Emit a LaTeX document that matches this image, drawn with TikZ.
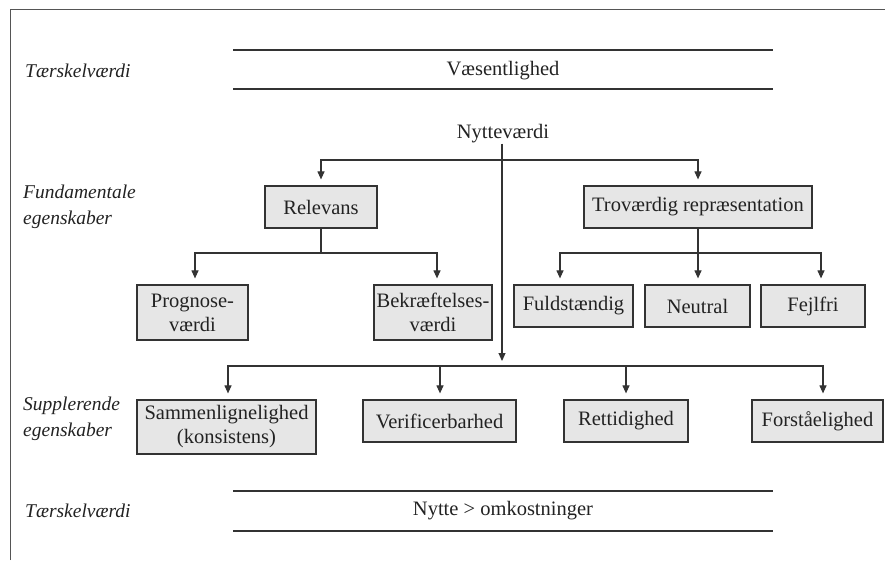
\documentclass[tikz,border=0pt]{standalone}
\usepackage{fontspec}
\setmainfont{Liberation Serif}
\usetikzlibrary{arrows.meta}
\definecolor{linec}{HTML}{333333}
\definecolor{textc}{HTML}{222222}
\definecolor{boxfill}{HTML}{E6E6E6}
\definecolor{framec}{HTML}{555555}
\begin{document}
\begin{tikzpicture}[x=1pt,y=-1pt,
  box/.style={draw=linec, fill=boxfill, line width=1.2pt, inner sep=0pt, align=center,
    text=textc, font=\fontsize{20.5}{24}\selectfont},
  txt/.style={inner sep=0pt, text=textc, font=\fontsize{20.5}{24}\selectfont},
  lbl/.style={anchor=west, inner sep=0pt, align=left, text=textc,
    font=\fontsize{19.5}{26}\selectfont\itshape},
  conn/.style={draw=linec, line width=1.1pt},
  arr/.style={conn, -{Triangle[length=8pt,width=7pt]}, shorten >=6pt}]
\useasboundingbox (0,0) rectangle (885,560);
% frame
\draw[framec, line width=1pt] (10,560) -- (10,9) -- (885,9);
% threshold bands
\draw[conn] (233,50) -- (773,50);
\draw[conn] (233,89) -- (773,89);
\node[txt] (vaes) at (503,71) {Væsentlighed};
\draw[conn] (233,491) -- (773,491);
\draw[conn] (233,531) -- (773,531);
\node[txt] (nytom) at (503,511) {Nytte > omkostninger};
% side labels
\node[lbl] (l1) at (25,71) {Tærskelværdi};
\node[lbl] (l2) at (23,207) {Fundamentale\\egenskaber};
\node[lbl] (l3) at (23,419) {Supplerende\\egenskaber};
\node[lbl] (l4) at (25,511) {Tærskelværdi};
% nodes
\node[txt] (nytte) at (503,134) {Nytteværdi};
\node[box, minimum width=112pt, minimum height=42pt] (rel) at (321,207) {Relevans};
\node[box, minimum width=228pt, minimum height=42pt] (trov) at (698,207) {Troværdig repræsentation};
\node[box, minimum width=111pt, minimum height=55pt] (prog) at (192.5,312.5) {Prognose-\\værdi};
\node[box, minimum width=118pt, minimum height=55pt] (bek) at (433,312.5) {Bekræftelses-\\værdi};
\node[box, minimum width=119pt, minimum height=42pt] (fuld) at (573.5,306) {Fuldstændig};
\node[box, minimum width=105pt, minimum height=42pt] (neut) at (697.5,306) {Neutral};
\node[box, minimum width=104pt, minimum height=42pt] (fejl) at (813,306) {Fejlfri};
\node[box, minimum width=179pt, minimum height=54pt] (samm) at (226.5,427) {Sammenlignelighed\\(konsistens)};
\node[box, minimum width=153pt, minimum height=42pt] (verif) at (439.5,421) {Verificerbarhed};
\node[box, minimum width=124pt, minimum height=42pt] (rett) at (626,421) {Rettidighed};
\node[box, minimum width=131pt, minimum height=42pt] (forst) at (817.5,421) {Forståelighed};
% junctions
\coordinate (j1) at (502,160);
\coordinate (j2) at (502,366);
\coordinate (rj) at (321,253);
\coordinate (tj) at (698,253);
\coordinate (sL) at (228,366);
\coordinate (sR) at (823,366);
\coordinate (sV) at (440,366);
\coordinate (sT) at (626,366);
% connectors
\draw[arr, shorten >=5pt] (nytte.south -| j2) -- (j2);
\draw[arr] (j1) -| (rel.north);
\draw[arr] (j1) -| (trov.north);
\draw[conn] (rel.south) -- (rj);
\draw[arr] (rj) -| ([xshift=2.5pt]prog.north);
\draw[arr] (rj) -| ([xshift=4pt]bek.north);
\draw[arr] (trov.south) -- (trov.south |- neut.north);
\draw[arr] (tj) -| ([xshift=-13.5pt]fuld.north);
\draw[arr] (tj) -| ([xshift=8pt]fejl.north);
\draw[arr] (j2) -- (sL) -- (sL |- samm.north);
\draw[arr] (j2) -- (sR) -- (sR |- forst.north);
\draw[arr] (sV) -- (sV |- verif.north);
\draw[arr] (sT) -- (sT |- rett.north);
\end{tikzpicture}
\end{document}
